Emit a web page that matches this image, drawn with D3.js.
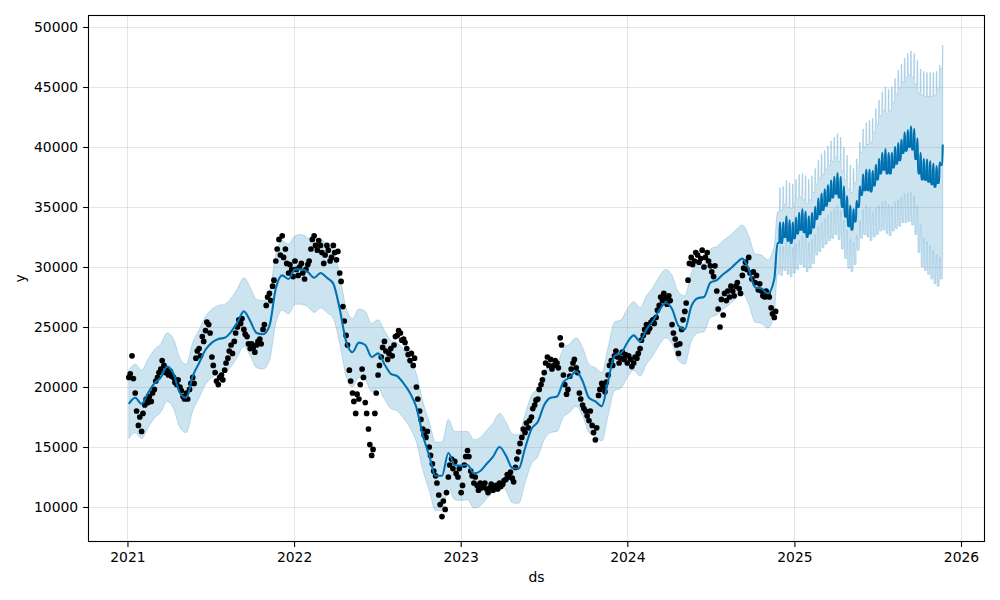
<!DOCTYPE html>
<html><head><meta charset="utf-8">
<script src="https://cdn.jsdelivr.net/npm/d3@7"></script>
<style>body{margin:0;background:#fff}svg{display:block}text{font-family:"DejaVu Sans",sans-serif;fill:#000}</style>
</head><body><svg id="c" width="1000" height="600"></svg>
<script>
// ---------- DATA ----------
// Observed points: two per week (Mon, Thu) starting week of 2021-01-04
const obsStart = [2021, 0, 4];
const obsDayOffsets = [0, 3];
const observed = [
20800,21100, 22600,20700, 19500,18000, 16800,17500, 16300,17800,
18500,19000, 18700,19200, 18800,19500, 19800,20500, 20800,21200,
21500,22200, 21800,21200, 21500,21000, 21300,20900, 20800,20400,
20200,20600, 20000,19700, 19200,19000, 19500,19000, 19800,20300,
20800,20300, 22400,23000, 23200,22600, 24200,23800, 24700,25400,
25200,24500, 22500,21800, 21200,20500, 20200,20800, 21000,20600,
21400,22000, 22400,23000, 23500,22800, 23800,24500, 25000,25600,
25300,25700, 24800,24400, 24200,23600, 23200,23600, 23300,22900,
23500,23800, 24000,23600, 24800,25200, 26800,27500, 27800,27200,
28400,28900, 30500,31500, 32300,31000, 32600,30800, 31500,30300,
29500,30200, 29800,29200, 30500,29800, 29300,30000, 30300,29500,
29000,29800, 30200,30500, 31500,32300, 32600,31800, 31400,32200,
31800,31200, 30300,31000, 31800,31400, 30500,30800, 31800,31200,
30600,31300, 29500,28800, 26700,25500, 24300,23500, 21400,20500,
19500,18800, 17800,19400, 19000,20200, 21500,20800, 18700,17800,
16500,15200, 14300,14800, 17800,19500, 21000,21800, 22500,23300,
23800,23000, 22300,22800, 23200,22600, 23500,24200, 24300,24700,
24500,23900, 24000,23700, 23200,22700, 22200,22800, 21800,22400,
20000,19000, 18000,17300, 16500,16000, 15800,16300, 15000,14300,
13600,13000, 12600,12000, 11000,10200, 9200,10500, 9800,11200,
12500,13500, 14000,13200, 13800,12800, 12500,13200, 11200,11800,
13500,14200, 14700,14200, 13000,12600, 12000,12500, 11800,11400,
12000,11600, 11700,12000, 11500,11200, 11600,11900, 11400,11700,
11800,11500, 12000,11700, 11900,12200, 12300,12700, 12500,12900,
12400,12100, 13300,14000, 14600,15300, 15800,16500, 16200,17000,
16600,17200, 17500,18200, 18500,18900, 19000,19800, 20200,20600,
21200,22000, 22500,21800, 22300,21500, 21800,22200, 22000,21600,
24100,23500, 21000,20200, 19400,19800, 20900,21500, 22000,22300,
21600,21200, 19500,19000, 18500,18200, 18000,17600, 17200,18000,
16800,16200, 15600,16600, 19300,19800, 20300,20000, 19600,20400,
21000,21800, 22200,21800, 22600,23000, 22500,22000, 22400,22900,
22300,22700, 22000,22600, 22300,21700, 22000,22500, 22400,22800,
23200,23900, 24300,24800, 25200,24600, 24900,25400, 25600,25300,
25800,26400, 26800,27500, 27200,27800, 27400,26900, 27600,27200,
25200,24500, 24000,23500, 22800,23600, 24800,25600, 26300,27000,
28900,30300, 30800,30200, 30500,31200, 31000,30400, 30700,31400,
30000,30800, 31200,30500, 30100,29600, 29200,30100, 28000,26500,
25000,27300, 26000,27800, 27200,28000, 27500,28400, 28000,27600,
28400,28700, 28200,27800, 29300,29900, 30400,29800, 30800,29500,
29000,29600, 28700,29300, 28100,28600, 28000,27600, 27500,28000,
27800,27500, 26600,26100, 25800,26300
];

// Fitted values over the history: one value every two weeks from 2021-01-04
const histStepWeeks = 2;
const histYhat = [
18600,19100,18600,19500,20300,20800,21700,21100,19500,19100,
20900,22000,23100,23700,24000,24100,24600,25400,26300,25500,
24500,24400,25100,28200,29300,29000,29800,29800,29600,29100,
29500,29100,28600,26500,23800,22900,23700,23500,22500,22800,
21900,21100,20900,20300,19500,18300,16000,14300,12600,12600,
14500,13500,13450,13500,12800,13000,13600,14200,15000,14300,
13250,13200,14900,16500,17100,18500,19100,19200,20400,20800,
21300,20500,19100,18800,18400,20500,22600,22800,23700,24300,
23800,24800,25500,26400,27000,26500,25100,24800,26700,27400,
27500,28700,28900,29400,29800,30300,30700,29800,28300,28200,
27800,29000
];
const histUpper = [
21400,21900,21400,22300,23100,23600,24500,24000,22400,21900,
23700,24800,25900,26500,26800,26900,27400,28200,29100,28300,
27300,27200,27900,31000,32200,31900,32600,32700,32400,32000,
32300,31900,31400,29300,26600,25700,26500,26300,25300,25600,
24700,23900,23700,23100,22300,21100,18800,17100,15400,15400,
17300,16300,16300,16300,15600,15800,16400,17000,17800,17100,
16100,16000,17700,19300,19900,21300,21900,22000,23200,23600,
24100,23300,21900,21600,21200,23300,25400,25600,26500,27100,
26600,27600,28300,29200,29800,29300,27900,27600,29500,30200,
30300,31500,31700,32200,32600,33100,33500,32600,31100,31000,
30600,31800
];
const histLower = [
15700,16200,15700,16600,17400,17900,18800,18200,16600,16200,
18000,19100,20200,20800,21100,21200,21700,22500,23400,22600,
21600,21500,22200,25300,26400,26100,26900,26900,26700,26200,
26600,26200,25700,23600,20900,20000,20800,20600,19600,19900,
19000,18200,18000,17400,16600,15400,13100,11400,9700,9700,
11600,10600,10550,10600,9900,10100,10700,11300,12100,11400,
10350,10300,12000,13600,14200,15600,16200,16300,17500,17900,
18400,17600,16200,15900,15500,17600,19700,19900,20800,21400,
20900,21900,22600,23500,24100,23600,22200,21900,23800,24500,
24600,25800,26000,26500,26900,27400,27800,26900,25400,25300,
24900,26100
];

// Forecast: weekday values per week starting Monday 2024-11-25
const fcStart = [2024, 10, 25];
const fcYhat = [
32000,32000,32500,32200,32000,32400,32800,33100,32900,32500,
32800,33300,34000,34400,34750,35100,35500,35800,36100,35800,
35000,34200,33400,33100,33800,35000,36000,36400,36400,36300,
36800,37300,37800,38100,37800,37800,38300,38600,38900,39500,
39700,40000,39800,39000,37800,37300,37250,37100,36900,36700,
37000,38500
];
const fcUpper = [
34600,34700,35200,35000,34900,35300,35700,35800,35600,35300,
35600,36200,36900,37400,37700,38100,38500,38800,39100,38800,
38000,37300,36500,36200,37000,38400,39500,40000,40200,40400,
41200,41900,42600,43000,42800,43000,43700,44400,44900,45400,
45800,46000,45800,45200,44500,44300,44200,44200,44200,44300,
44800,46500
];
const fcLower = [
29400,29300,29700,29400,29200,29500,29800,30200,30000,29600,
29900,30300,31000,31300,31600,31900,32200,32400,32700,32300,
31500,30700,29900,29600,30200,31400,32400,32700,32500,32200,
32500,32700,33000,33100,32800,32600,33000,33200,33400,33700,
33700,33800,33500,32700,31200,30000,29700,29400,29000,28600,
28400,29000
];
// Weekend (Sat/Sun) lift of the weekly seasonality: yhat, upper, lower
const weekendLift = [1700, 2000, 2400];

const xTickYears = [2021, 2022, 2023, 2024, 2025, 2026];
const yTickValues = [10000, 15000, 20000, 25000, 30000, 35000, 40000, 45000, 50000];

// ---------- LAYOUT ----------
const M = {left: 88, top: 15, right: 985, bottom: 542};
const BLUE = "#0072B2";
const svg = d3.select("#c");
const DAY = 86400000;
const utc = a => Date.UTC(a[0], a[1], a[2]);

const x = d3.scaleUtc()
  .domain([new Date(Date.UTC(2020, 9, 6, 14)), new Date(Date.UTC(2026, 1, 22, 14))])
  .range([M.left, M.right]);
const y = d3.scaleLinear().domain([7083, 51000]).range([M.bottom, M.top]);

// ---------- BUILD SERIES ----------
const obsPts = observed.map((v, i) => {
  const w = Math.floor(i / 2);
  return {d: new Date(utc(obsStart) + (w * 7 + obsDayOffsets[i % 2]) * DAY), v};
});

const fitPts = histYhat.map((v, i) => ({
  d: new Date(utc(obsStart) + i * histStepWeeks * 7 * DAY),
  y: v, u: histUpper[i], l: histLower[i]
}));
const n = fcYhat.length;
for (let i = 0; i < n; i++) {
  const mon = utc(fcStart) + i * 7 * DAY;
  const base = {y: fcYhat[i], u: fcUpper[i], l: fcLower[i]};
  const wk = {y: fcYhat[i] + weekendLift[0], u: fcUpper[i] + weekendLift[1], l: fcLower[i] + weekendLift[2]};
  fitPts.push({d: new Date(mon), ...base});
  fitPts.push({d: new Date(mon + 4 * DAY), ...base});
  fitPts.push({d: new Date(mon + 5 * DAY), ...wk});
  if (i < n - 1) fitPts.push({d: new Date(mon + 6 * DAY), ...wk});
}

// ---------- DRAW ----------
const plot = svg.append("g");
plot.append("clipPath").attr("id", "clip").append("rect")
  .attr("x", M.left).attr("y", M.top).attr("width", M.right - M.left).attr("height", M.bottom - M.top);

// uncertainty band
plot.append("path").datum(fitPts)
  .attr("clip-path", "url(#clip)")
  .attr("d", d3.area().curve(d3.curveMonotoneX).x(d => x(d.d)).y0(d => y(d.l)).y1(d => y(d.u)))
  .attr("fill", BLUE).attr("fill-opacity", 0.2)
  .attr("stroke", BLUE).attr("stroke-opacity", 0.2).attr("stroke-width", 1);

// grid
const grid = svg.append("g");
xTickYears.forEach(yr => {
  const gx = Math.round(x(new Date(Date.UTC(yr, 0, 1)))) + 0.5;
  grid.append("line").attr("x1", gx).attr("x2", gx).attr("y1", M.top).attr("y2", M.bottom)
    .attr("stroke", "#808080").attr("stroke-opacity", 0.2).attr("stroke-width", 1);
});
yTickValues.forEach(v => {
  const gy = Math.round(y(v)) + 0.5;
  grid.append("line").attr("x1", M.left).attr("x2", M.right).attr("y1", gy).attr("y2", gy)
    .attr("stroke", "#808080").attr("stroke-opacity", 0.2).attr("stroke-width", 1);
});

// observed points
svg.append("g").selectAll("circle").data(obsPts).join("circle")
  .attr("cx", d => x(d.d)).attr("cy", d => y(d.v)).attr("r", 2.85).attr("fill", "#000");

// fitted / forecast line
svg.append("path").datum(fitPts)
  .attr("clip-path", "url(#clip)")
  .attr("d", d3.line().curve(d3.curveMonotoneX).x(d => x(d.d)).y(d => y(d.y)))
  .attr("fill", "none").attr("stroke", BLUE).attr("stroke-width", 2.08).attr("stroke-linejoin", "round");

// frame
svg.append("rect").attr("x", M.left + 0.5).attr("y", M.top + 0.5)
  .attr("width", M.right - M.left - 1).attr("height", M.bottom - M.top - 1)
  .attr("fill", "none").attr("stroke", "#000").attr("stroke-width", 1.1);

// axes
const xAxis = d3.axisBottom(x)
  .tickValues(xTickYears.map(yr => new Date(Date.UTC(yr, 0, 1))))
  .tickFormat(d3.utcFormat("%Y")).tickSize(4.9).tickPadding(4.9);
const gxA = svg.append("g").attr("transform", `translate(0,${M.bottom})`).call(xAxis);
const yAxis = d3.axisLeft(y).tickValues(yTickValues).tickFormat(d3.format("d")).tickSize(4.9).tickPadding(4.9);
const gyA = svg.append("g").attr("transform", `translate(${M.left},0)`).call(yAxis);
[gxA, gyA].forEach(g => {
  g.select(".domain").remove();
  g.selectAll("line").attr("stroke", "#000").attr("stroke-width", 1.1);
  g.selectAll("text").attr("font-size", "13.9px").attr("font-family", "DejaVu Sans").attr("fill", "#000");
});

svg.append("text").attr("x", (M.left + M.right) / 2).attr("y", 582)
  .attr("text-anchor", "middle").attr("font-size", "13.9px").text("ds");
svg.append("text").attr("transform", `translate(25,${(M.top + M.bottom) / 2}) rotate(-90)`)
  .attr("text-anchor", "middle").attr("font-size", "13.9px").text("y");
</script></body></html>
